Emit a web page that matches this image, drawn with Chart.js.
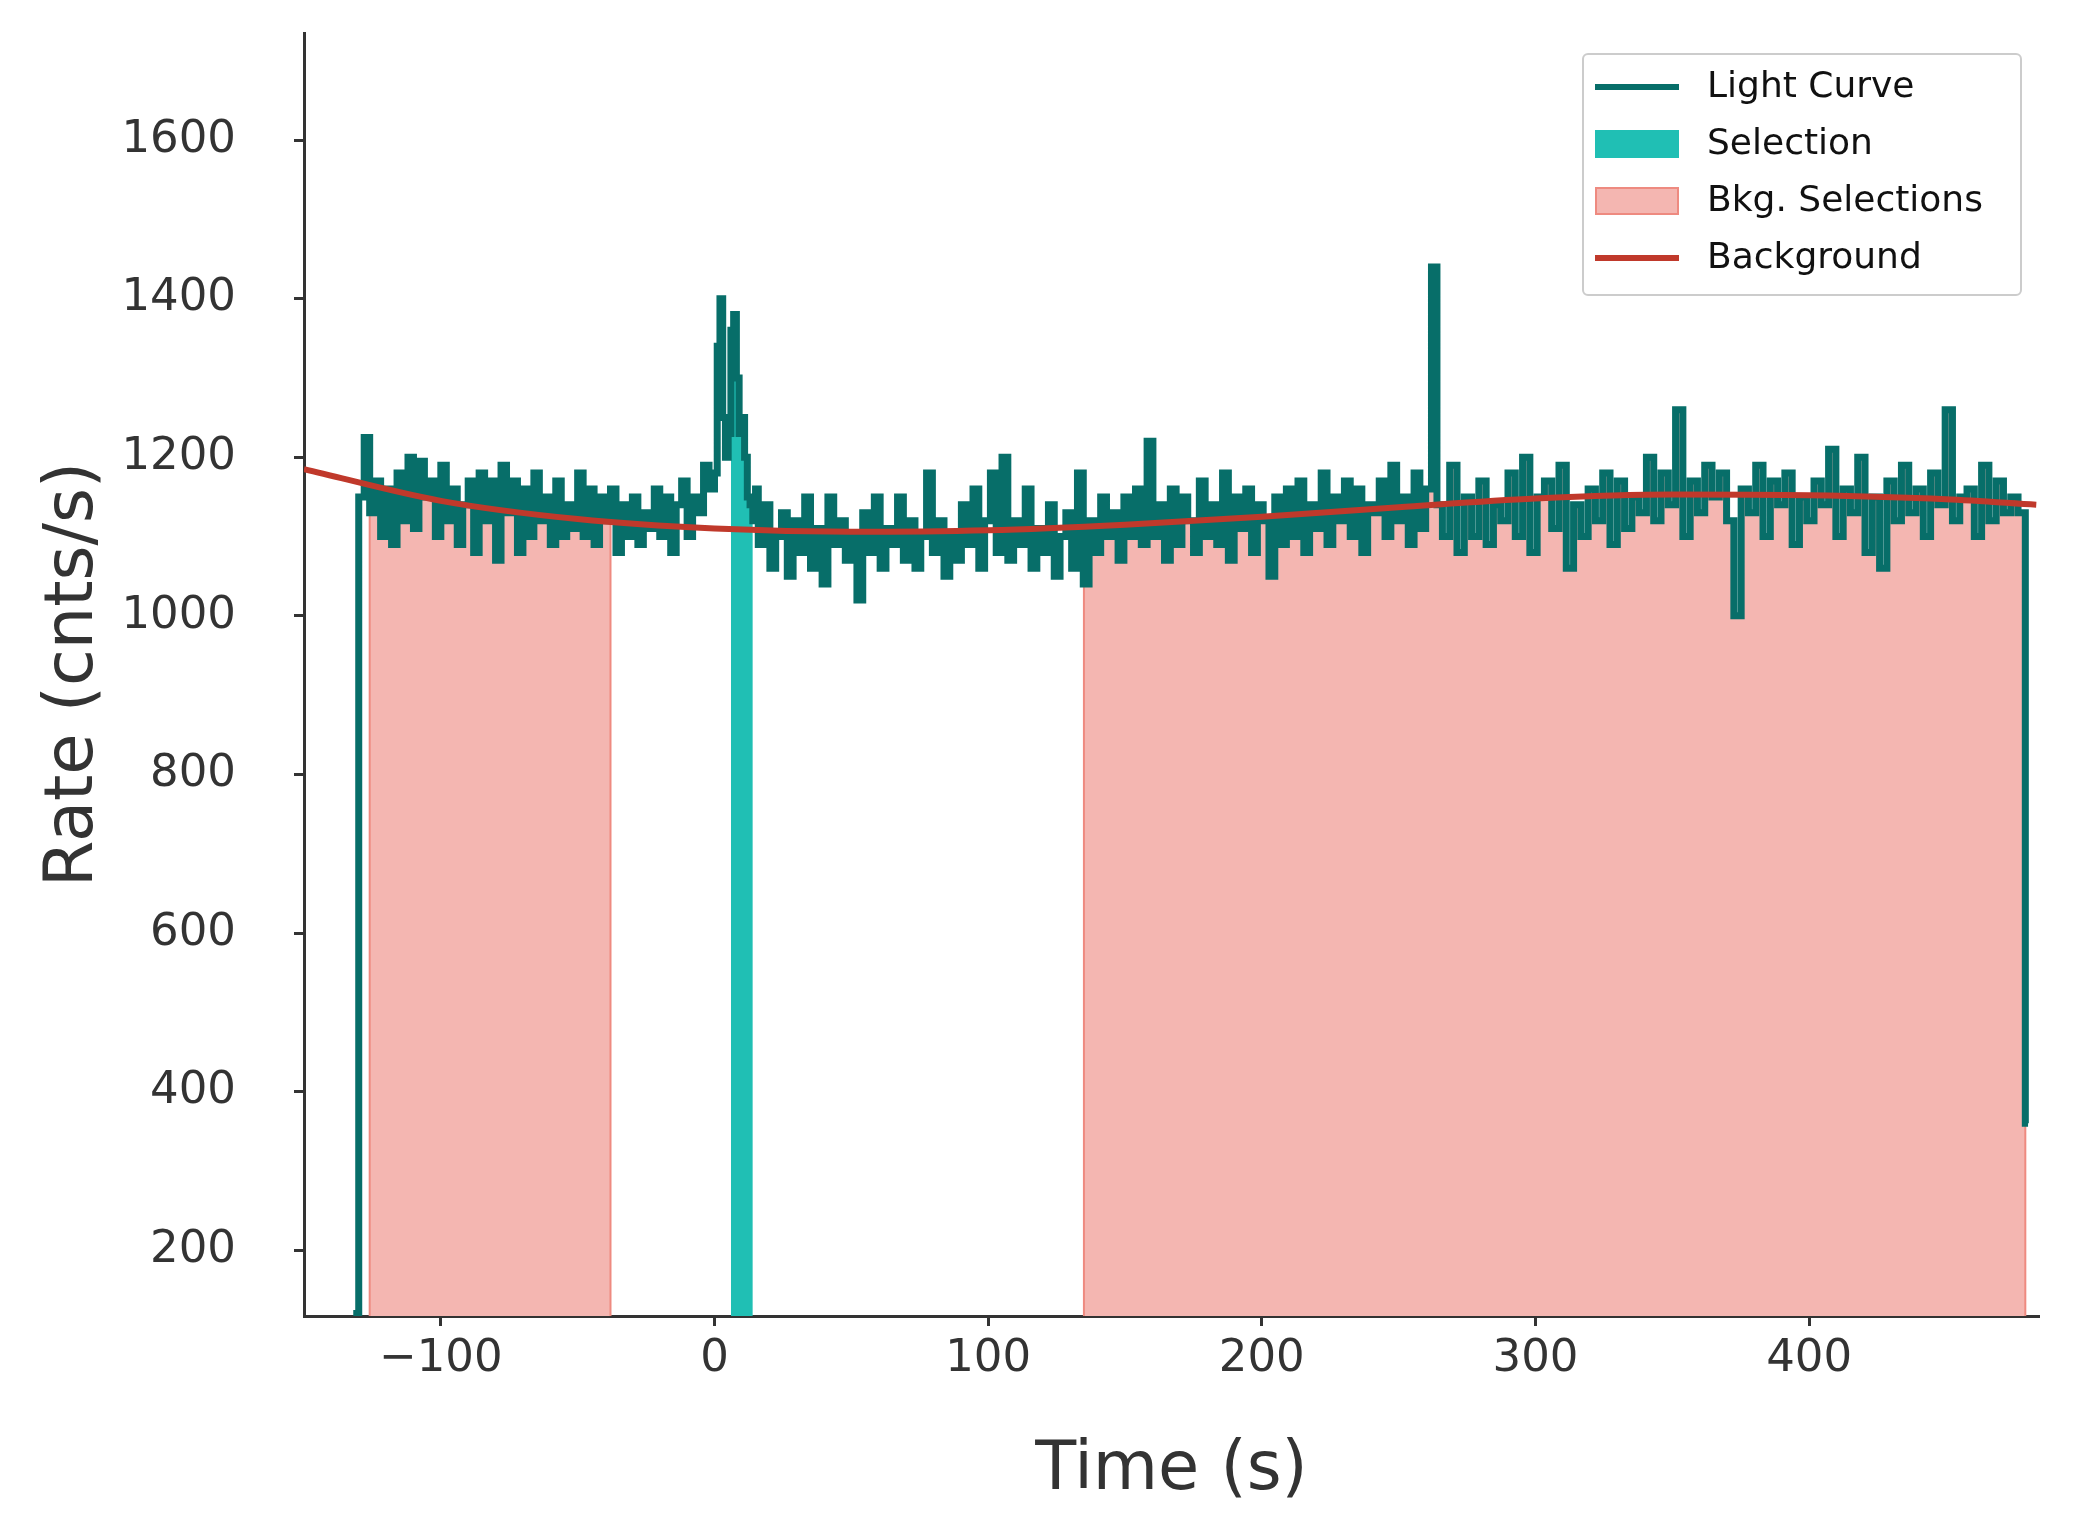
<!DOCTYPE html>
<html><head><meta charset="utf-8">
<script src="https://cdn.jsdelivr.net/npm/chart.js@4/dist/chart.umd.min.js"></script>
<style>html,body{margin:0;background:#fff}#w{width:2073px;height:1540px}</style>
</head><body><div id="w"><canvas id="c"></canvas></div>
<script>
// light-curve segments: [start time, end time] and the rates of equal bins inside
const segA = [-132, 0];
const ratesA = [120,
1150,1225,1130,1170,1100,1160,1090,1180,1120,1200,1110,1195,1150,1170,1100,1190,1120,1160,1090,1140,
1170,1080,1180,1120,1170,1070,1190,1130,1170,1080,1160,1100,1180,1120,1150,1090,1170,1100,1140,1110,
1180,1100,1160,1090,1150,1120,1160,1080,1140,1100,1150,1090,1130,1110,1160,1100,1150,1080,1140,1170,
1100,1150,1130,1190,1160];
const segB = [0, 16];
const ratesB = [1180,1340,1400,1250,1200,1230,1360,1380,1300,1230,1250,1200,1150,1140,1120,1160];
const segC = [16, 262];
const ratesC = [1090,1140,1060,
1100,1130,1050,1120,1080,1150,1060,1110,1040,1150,1090,1120,1070,1100,1020,1130,1080,1150,1060,1110,
1090,1150,1070,1120,1060,1100,1180,1080,1120,1050,1100,1070,1140,1090,1160,1060,1120,1180,1080,1200,
1070,1120,1090,1160,1060,1110,1080,1140,1050,1100,1130,1060,1180,1040,1120,1080,1150,1100,1130,1070,
1150,1100,1160,1090,1220,1100,1140,1070,1160,1090,1150,1120,1080,1170,1100,1140,1090,1180,1070,1150,
1110,1160,1080,1140,1120,1050,1150,1090,1160,1100,1170,1080,1140,1110,1180,1090,1150,1120,1170,1100,
1160,1080,1140,1130,1170,1100,1190,1120,1150,1090,1180,1110,1160];
const segD = [262, 266];
const ratesD = [1440,1140];
const segE = [266, 479];
const ratesE = [1100,1190,1080,1150,1100,
1170,1090,1140,1120,1180,1100,1200,1080,1150,1170,1110,1190,1060,1140,1100,1160,1120,1180,1090,1170,
1110,1150,1130,1200,1120,1180,1140,1260,1100,1170,1130,1190,1150,1180,1120,1000,1160,1130,1190,1100,
1170,1140,1180,1090,1150,1120,1170,1140,1210,1100,1160,1130,1200,1080,1150,1060,1170,1120,1190,1130,
1160,1100,1180,1140,1260,1120,1150,1160,1100,1190,1120,1170,1130,1150,1130];
const endRate = 360;
const bkgTimes = [-150,-100,-50,0,50,100,150,200,250,300,350,400,450,483];
const bkgRates = [1185,1145,1122,1110,1106,1108,1115,1125,1137,1148,1153,1152,1147,1140];
const bkgRanges = [[-126,-38],[135,479]];
const selRange = [6,14];
const xTicks = [-100,0,100,200,300,400];
const yTicks = [200,400,600,800,1000,1200,1400,1600];

const bins=[];
[[segA,ratesA],[segB,ratesB],[segC,ratesC],[segD,ratesD],[segE,ratesE]].forEach(([s,r])=>{
  const w=(s[1]-s[0])/r.length; r.forEach((v,i)=>bins.push({x0:s[0]+i*w,x1:s[0]+(i+1)*w,y:v}));
});
function pts(a,b){
  const p=[];let last=null;
  bins.forEach(bn=>{ if(bn.x1<=a||bn.x0>=b) return; p.push({x:Math.max(bn.x0,a),y:bn.y}); last=bn;});
  p.push({x:b,y:last.y}); return p;
}
function valAt(x){const bn=bins.find(b=>x>=b.x0&&x<b.x1)||bins[bins.length-1];return bn.y;}
const lc=bins.map(b=>({x:b.x0,y:b.y}));
lc.push({x:479,y:endRate});lc.push({x:480,y:endRate});
const datasets=[];
bkgRanges.forEach(r=>{
  datasets.push({data:pts(r[0],r[1]),stepped:'before',fill:'start',backgroundColor:'#f4b6b1',borderWidth:0,pointRadius:0,order:5});
  r.forEach(x=>datasets.push({data:[{x:x,y:117},{x:x,y:Math.min(valAt(x-0.01),valAt(x+0.01))}],borderColor:'#ee8a80',borderWidth:2,pointRadius:0,order:4}));
});
datasets.push({data:pts(selRange[0],selRange[1]),stepped:'before',fill:'start',backgroundColor:'#20bfb4',borderWidth:0,pointRadius:0,order:3});
datasets.push({data:lc,stepped:'before',borderColor:'#076e69',borderWidth:7,pointRadius:0,fill:false,order:2});
datasets.push({data:bkgTimes.map((t,i)=>({x:t,y:bkgRates[i]})),cubicInterpolationMode:'monotone',borderColor:'#c0392b',borderWidth:6,pointRadius:0,fill:false,order:1});

const legendPlugin={id:'lg',afterDraw(ch){
  const c=ch.ctx;const x=1583,y=54,w=438,h=241;
  c.save();c.fillStyle='rgba(255,255,255,0.85)';c.strokeStyle='#ccc';c.lineWidth=2;
  c.beginPath();c.roundRect(x,y,w,h,5);c.fill();c.stroke();
  const items=[['Light Curve','line','#076e69'],['Selection','box','#20bfb4'],['Bkg. Selections','box','#f4b6b1','#ee8a80'],['Background','line','#c0392b']];
  c.font='36px "DejaVu Sans"';c.textBaseline='middle';
  items.forEach((it,i)=>{const yy=y+33+i*57;
    if(it[1]==='line'){c.strokeStyle=it[2];c.lineWidth=6;c.beginPath();c.moveTo(x+12,yy);c.lineTo(x+96,yy);c.stroke();}
    else{c.fillStyle=it[2];c.fillRect(x+12,yy-14,84,28);if(it[3]){c.strokeStyle=it[3];c.lineWidth=2;c.strokeRect(x+13,yy-13,82,26);}}
    c.fillStyle='#111';c.fillText(it[0],x+124,yy+1);});
  c.restore();}};

new Chart(document.getElementById('c'),{type:'line',data:{datasets},
options:{responsive:true,maintainAspectRatio:false,animation:false,
 layout:{padding:{top:33,right:34,left:30,bottom:0}},
 plugins:{legend:{display:false},tooltip:{enabled:false}},
 scales:{
  x:{type:'linear',min:-150,max:484,
    afterBuildTicks(s){s.ticks=xTicks.map(v=>({value:v}));},afterFit(s){s.height=224;s.paddingLeft=0;s.paddingRight=0;},
    grid:{display:true,drawOnChartArea:false,drawTicks:true,tickLength:10,tickWidth:3,tickColor:'#333'},
    border:{color:'#333',width:3},
    ticks:{color:'#333',font:{family:'DejaVu Sans',size:45},padding:6,callback:v=>v<0?'\u2212'+Math.abs(v):String(v)},
    title:{display:true,text:'Time (s)',color:'#333',font:{family:'DejaVu Sans',size:67},padding:{top:4,bottom:28}}},
  y:{min:117,max:1735,
    afterBuildTicks(s){s.ticks=yTicks.map(v=>({value:v}));},afterFit(s){s.width=274;s.paddingTop=0;s.paddingBottom=0;},
    grid:{display:true,drawOnChartArea:false,drawTicks:true,tickLength:10,tickWidth:3,tickColor:'#333'},
    border:{color:'#333',width:3},
    ticks:{color:'#333',font:{family:'DejaVu Sans',size:45},padding:58,callback:v=>String(v)},
    title:{display:true,text:'Rate (cnts/s)',color:'#333',font:{family:'DejaVu Sans',size:67},padding:{bottom:8}}}
 }},plugins:[legendPlugin]});
</script></body></html>
